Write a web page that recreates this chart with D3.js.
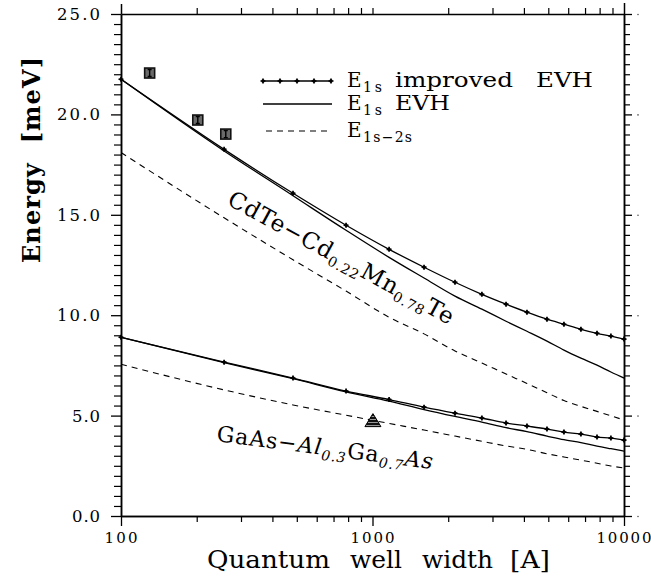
<!DOCTYPE html>
<html><head><meta charset="utf-8">
<script src="https://cdn.jsdelivr.net/npm/d3@7"></script>
<style>
html,body{margin:0;padding:0;background:#fff;}
svg{display:block;}
text{font-family:"DejaVu Serif",serif;fill:#000;}
</style></head><body>
<svg id="c" width="651" height="580"></svg>
<script>
// ---- data ----
const widths        = [100, 257, 483, 785, 1164, 1603, 2128, 2722, 3396, 4113, 4940, 5770, 6740, 7810, 8870, 10000];
const cdteImproved  = [21.75, 18.26, 16.07, 14.48, 13.28, 12.39, 11.64, 11.04, 10.55, 10.15, 9.80, 9.55, 9.30, 9.10, 8.96, 8.81];
const cdteEVH       = [21.75, 18.18, 15.95, 14.23, 12.88, 11.85, 10.95, 10.30, 9.70, 9.20, 8.71, 8.26, 7.86, 7.51, 7.17, 6.87];
const cdte1s2s      = [18.10, 14.85, 12.76, 11.20, 9.90, 9.07, 8.22, 7.62, 7.07, 6.60, 6.14, 5.75, 5.46, 5.21, 4.99, 4.78];
const gaasImproved  = [8.90, 7.66, 6.87, 6.22, 5.80, 5.42, 5.12, 4.88, 4.63, 4.48, 4.33, 4.18, 4.08, 3.93, 3.88, 3.78];
const gaasEVH       = [8.90, 7.64, 6.84, 6.18, 5.72, 5.30, 4.96, 4.68, 4.40, 4.20, 3.98, 3.80, 3.65, 3.48, 3.35, 3.23];
const gaas1s2s      = [7.56, 6.28, 5.53, 5.02, 4.61, 4.28, 3.98, 3.72, 3.49, 3.32, 3.10, 2.94, 2.78, 2.63, 2.49, 2.39];
const cdteExpWidths = [130, 202, 261];
const cdteExpValues = [22.06, 19.72, 19.02];
const gaasExpWidths = [1004];
const gaasExpValues = [4.75];
const xMajorTicks   = [100, 1000, 10000];
const xTickLabels   = ["100", "1000", "10000"];
const xMinorTicks   = [200,300,400,500,600,700,800,900,2000,3000,4000,5000,6000,7000,8000,9000];
const yMajorTicks   = [0, 5, 10, 15, 20, 25];
const yTickLabels   = ["0.0", "5.0", "10.0", "15.0", "20.0", "25.0"];
const yMinorTicks   = d3.range(0, 25.001, 0.5).filter(v => v % 5 !== 0);
const xTitleWords   = ["Quantum", "well", "width", "[A]"];
const yTitle        = "Energy  [meV]";

// ---- layout ----
const svg = d3.select("#c");
const L = 121, R = 624, T = 14, B = 516;
const x = d3.scaleLog().domain([100, 10000]).range([L, R]);
const y = d3.scaleLinear().domain([0, 25]).range([B, T]);

function styleAxis(g, w) {
  g.selectAll("path.domain").attr("stroke", "#000").attr("stroke-width", 1.5);
  g.selectAll(".tick line").attr("stroke", "#000").attr("stroke-width", w);
  g.selectAll(".tick text").remove();
}

// bottom
svg.append("g").attr("transform", `translate(0,${B})`)
  .call(d3.axisBottom(x).tickValues(xMinorTicks).tickSize(6).tickSizeOuter(0).tickFormat(""))
  .call(g => styleAxis(g, 1.2));
svg.append("g").attr("transform", `translate(0,${B})`)
  .call(d3.axisBottom(x).tickValues(xMajorTicks).tickSize(10).tickSizeOuter(0).tickFormat(""))
  .call(g => styleAxis(g, 1.3));
// top
svg.append("g").attr("transform", `translate(0,${T})`)
  .call(d3.axisTop(x).tickValues(xMinorTicks.concat([1000])).tickSize(6).tickSizeOuter(0).tickFormat(""))
  .call(g => styleAxis(g, 1.2));
// left
svg.append("g").attr("transform", `translate(${L},0)`)
  .call(d3.axisLeft(y).tickValues(yMinorTicks).tickSize(7).tickSizeOuter(0).tickFormat(""))
  .call(g => styleAxis(g, 1.2));
svg.append("g").attr("transform", `translate(${L},0)`)
  .call(d3.axisLeft(y).tickValues(yMajorTicks).tickSize(10).tickSizeOuter(0).tickFormat(""))
  .call(g => styleAxis(g, 1.3));
// right
svg.append("g").attr("transform", `translate(${R},0)`)
  .call(d3.axisRight(y).tickValues(yMinorTicks).tickSize(6).tickSizeOuter(0).tickFormat(""))
  .call(g => styleAxis(g, 1.2));
svg.append("g").attr("transform", `translate(${R},0)`)
  .call(d3.axisRight(y).tickValues(yMajorTicks).tickSize(8).tickSizeOuter(0).tickFormat(""))
  .call(g => styleAxis(g, 1.3));
// axis extensions above the top
svg.append("line").attr("x1", L + 0.5).attr("x2", L + 0.5).attr("y1", 4).attr("y2", T).attr("stroke", "#000").attr("stroke-width", 1.5);
svg.append("line").attr("x1", R + 0.5).attr("x2", R + 0.5).attr("y1", 3).attr("y2", T).attr("stroke", "#000").attr("stroke-width", 1.5);
// tiny dots right of the right axis
svg.selectAll("circle.rdot").data(yMajorTicks).join("circle").attr("class", "rdot")
  .attr("cx", R + 14).attr("cy", d => y(d) + 0.5).attr("r", 0.8).attr("fill", "#555");

// tick labels
svg.selectAll("text.xl").data(xMajorTicks).join("text").attr("class", "xl")
  .attr("x", d => x(d)).attr("y", 543).attr("text-anchor", "middle")
  .attr("font-size", 15)
  .attr("textLength", (d, i) => xTickLabels[i].length * 11)
  .attr("lengthAdjust", "spacing")
  .text((d, i) => xTickLabels[i]);
svg.selectAll("text.yl").data(yMajorTicks).join("text").attr("class", "yl")
  .attr("x", 100).attr("y", d => y(d) + 6).attr("text-anchor", "end")
  .attr("font-size", 16.5)
  .attr("textLength", (d, i) => yTickLabels[i].length === 3 ? 28 : 43)
  .attr("lengthAdjust", "spacing")
  .text((d, i) => yTickLabels[i]);

// axis titles
const xWordPos = [[207, 123], [350, 52], [422, 71], [510, 40]];
xTitleWords.forEach((w, i) => {
  svg.append("text").attr("x", xWordPos[i][0]).attr("y", 568).attr("font-size", 24)
    .attr("textLength", xWordPos[i][1]).attr("lengthAdjust", "spacingAndGlyphs").text(w);
});
svg.append("text").attr("transform", "translate(40,160) rotate(-90)")
  .attr("text-anchor", "middle").attr("font-size", 24).attr("font-weight", "bold")
  .attr("xml:space", "preserve").style("white-space", "pre")
  .attr("textLength", 206).attr("lengthAdjust", "spacing")
  .text(yTitle);

// curves
const clipId = "plotclip";
svg.append("clipPath").attr("id", clipId).append("rect").attr("x", L).attr("y", T).attr("width", R - L).attr("height", B - T);
const plot = svg.append("g").attr("clip-path", `url(#${clipId})`);
const line = d3.line().x((d, i) => x(widths[i])).y(d => y(d)).curve(d3.curveMonotoneX);

[[cdteEVH, null], [gaasEVH, null], [cdte1s2s, "6,5"], [gaas1s2s, "6,5"], [cdteImproved, null], [gaasImproved, null]]
  .forEach(([s, dash]) => {
    plot.append("path").attr("d", line(s)).attr("fill", "none").attr("stroke", "#000")
      .attr("stroke-width", dash ? 1.1 : 1.3).attr("stroke-dasharray", dash);
  });

function marker(g, cx, cy) {
  g.append("path").attr("d", d3.symbol(d3.symbolCross, 14)()).attr("transform", `translate(${cx},${cy})`).attr("fill", "#000");
  g.append("circle").attr("cx", cx).attr("cy", cy).attr("r", 1.7).attr("fill", "#000");
}
const mk = svg.append("g");
[cdteImproved, gaasImproved].forEach(s => s.forEach((v, i) => marker(mk, x(widths[i]), y(v))));

// experimental points
const expG = svg.append("g");
cdteExpWidths.forEach((w, i) => {
  const cx = x(w), cy = y(cdteExpValues[i]);
  expG.append("rect").attr("x", cx - 5).attr("y", cy - 5).attr("width", 10).attr("height", 10)
    .attr("fill", "#6a6a6a").attr("stroke", "#111").attr("stroke-width", 1.6);
  expG.append("path").attr("d", `M${cx},${cy - 3.5}V${cy + 3.5}M${cx - 2},${cy - 3.5}H${cx + 2}M${cx - 2},${cy + 3.5}H${cx + 2}`)
    .attr("stroke", "#000").attr("stroke-width", 1.4).attr("fill", "none");
});
const defs = svg.append("defs");
const pat = defs.append("pattern").attr("id", "stripes").attr("patternUnits", "userSpaceOnUse").attr("width", 4).attr("height", 3);
pat.append("rect").attr("width", 4).attr("height", 3).attr("fill", "#111");
pat.append("rect").attr("y", 2).attr("width", 4).attr("height", 1).attr("fill", "#999");
gaasExpWidths.forEach((w, i) => {
  const cx = x(w), cy = y(gaasExpValues[i]);
  expG.append("path").attr("d", `M${cx},${cy - 7}L${cx + 8},${cy + 6}L${cx - 8},${cy + 6}Z`)
    .attr("fill", "url(#stripes)").attr("stroke", "#000").attr("stroke-width", 1);
});

// legend
const lg = svg.append("g");
const lx0 = 263, lx1 = 332;
lg.append("line").attr("x1", lx0).attr("x2", lx1).attr("y1", 81).attr("y2", 81).attr("stroke", "#000").attr("stroke-width", 1.3);
d3.range(5).forEach(k => marker(lg, lx0 + k * (lx1 - lx0 - 1) / 4, 81));
lg.append("line").attr("x1", lx0).attr("x2", lx1).attr("y1", 104).attr("y2", 104).attr("stroke", "#000").attr("stroke-width", 1.3);
lg.append("line").attr("x1", lx0 + 3).attr("x2", lx1).attr("y1", 131).attr("y2", 131).attr("stroke", "#000").attr("stroke-width", 1.1).attr("stroke-dasharray", "6,5");

const legendSubs  = ["1s", "1s", "1s\u22122s"];
const legendWords = [["improved", "EVH"], ["EVH"], []];
const legendBase  = [87, 110, 137];
const wordBoxes   = [[[395, 118], [536, 57]], [[395, 55]], []];
legendBase.forEach((by, i) => {
  lg.append("text").attr("x", 347).attr("y", by).attr("font-size", 20).text("E");
  lg.append("text").attr("x", 363).attr("y", by + 5).attr("font-size", 14)
    .attr("textLength", i === 2 ? 49 : 19).attr("lengthAdjust", "spacing").text(legendSubs[i]);
  legendWords[i].forEach((w, j) => {
    lg.append("text").attr("x", wordBoxes[i][j][0]).attr("y", by).attr("font-size", 21)
      .attr("textLength", wordBoxes[i][j][1]).attr("lengthAdjust", "spacingAndGlyphs").text(w);
  });
});

// rotated material labels
const t1 = svg.append("text").attr("transform", "translate(226,204) rotate(28.5)").attr("font-size", 23).attr("letter-spacing", 0.8);
t1.append("tspan").text("CdTe\u2212Cd");
t1.append("tspan").attr("font-size", 14).attr("dy", 5).text("0.22");
t1.append("tspan").attr("dy", -5).text("Mn");
t1.append("tspan").attr("font-size", 14).attr("dy", 5).text("0.78");
t1.append("tspan").attr("dy", -5).text("Te");

const t2 = svg.append("text").attr("transform", "translate(216,441) rotate(7.4)").attr("font-size", 22).attr("letter-spacing", 1);
t2.append("tspan").text("GaAs\u2212");
t2.append("tspan").attr("font-style", "italic").text("Al");
t2.append("tspan").attr("font-size", 14).attr("font-style", "italic").attr("dy", 5).text("0.3");
t2.append("tspan").attr("dy", -5).text("Ga");
t2.append("tspan").attr("font-size", 14).attr("font-style", "italic").attr("dy", 5).text("0.7");
t2.append("tspan").attr("font-style", "italic").attr("dy", -5).text("As");
</script>
</body></html>
